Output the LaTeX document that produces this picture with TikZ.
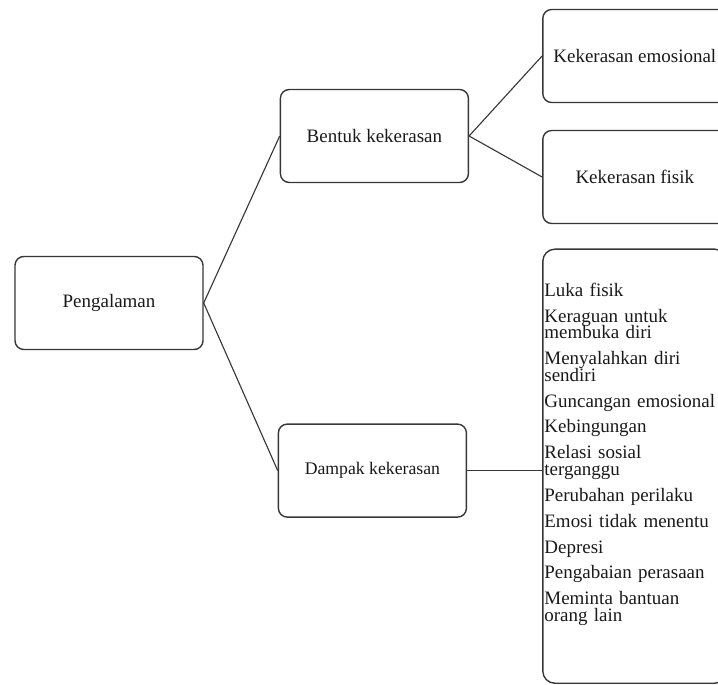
\documentclass[tikz,border=0pt]{standalone}
\usepackage{fontspec}
\setmainfont{Liberation Serif}
\usetikzlibrary{positioning}
\definecolor{boxline}{RGB}{55,55,55}
\definecolor{labeltext}{RGB}{25,25,25}
\newcommand{\boxfont}{\fontsize{13.5}{16}\selectfont}
\newcommand{\listfont}{\fontsize{13.5}{11.8}\selectfont\lineskiplimit=-8pt}

\begin{document}
\begin{tikzpicture}[
    node distance=1.9cm,
    roundbox/.style={
      rectangle, draw=boxline, line width=1pt, rounded corners=0.22cm,
      minimum width=4.7cm, minimum height=2.325cm,
      align=center, font=\boxfont, text=labeltext
    },
    leafbox/.style={roundbox, minimum width=4.6cm},
    listbox/.style={roundbox, minimum width=4.6cm, minimum height=10.85cm, rounded corners=0.3cm},
    listtext/.style={
      align=left, text width=4.5cm, inner sep=0pt,
      font=\listfont, text=labeltext
    },
    link/.style={draw=boxline, line width=0.8pt}
  ]
    \useasboundingbox (0,0) rectangle (17.95,-17.125);

    % Root
    \node[roundbox] (pengalaman) at (2.725,-7.575) {Pengalaman};

    % First level
    \node[roundbox, right=1.9cm of pengalaman, yshift=4.175cm] (bentuk) {Bentuk kekerasan};
    \node[roundbox, right=1.85cm of pengalaman, yshift=-4.19cm,
          font=\fontsize{12.6}{15}\selectfont] (dampak) {Dampak kekerasan};

    % Second level
    \node[leafbox, right=1.825cm of bentuk, yshift=2cm] (emosional) {Kekerasan emosional};
    \node[leafbox, right=1.825cm of bentuk, yshift=-1.025cm] (fisik) {Kekerasan fisik};
    \node[listbox, right=1.875cm of dampak, yshift=0.11cm] (dampaklist) {};
    \node[listtext, anchor=west] (dampakitems) at ([xshift=0.05cm, yshift=0.3cm]dampaklist.west) {%
      Luka fisik\\[6.6pt]
      Keraguan untuk\\membuka diri\\[6.6pt]
      Menyalahkan diri\\sendiri\\[6.6pt]
      Guncangan emosional\\[6.6pt]
      Kebingungan\\[6.6pt]
      Relasi sosial\\terganggu\\[6.6pt]
      Perubahan perilaku\\[6.6pt]
      Emosi tidak menentu\\[6.6pt]
      Depresi\\[6.6pt]
      Pengabaian perasaan\\[6.6pt]
      Meminta bantuan\\orang lain};

    % Connectors
    \draw[link] (pengalaman.east) -- (bentuk.west);
    \draw[link] (pengalaman.east) -- (dampak.west);
    \draw[link] (bentuk.east) -- (emosional.west);
    \draw[link] (bentuk.east) -- (fisik.west);
    \draw[link] (dampak.east) -- (dampak.east -| dampaklist.west);

\end{tikzpicture}
\end{document}
